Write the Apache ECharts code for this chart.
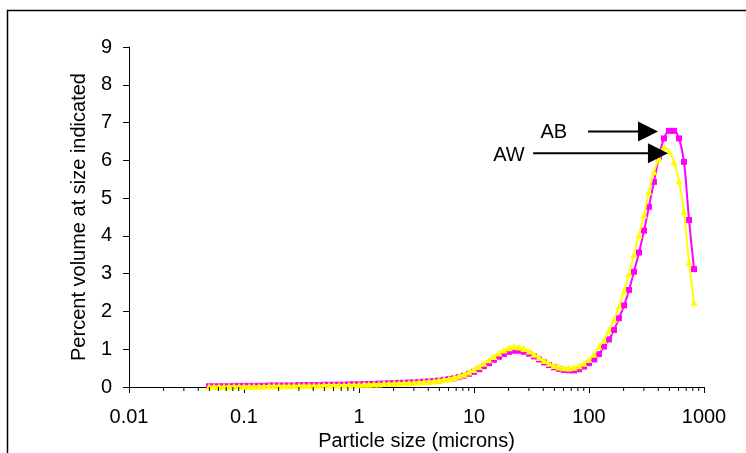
<!DOCTYPE html>
<html>
<head>
<meta charset="utf-8">
<script src="https://cdn.jsdelivr.net/npm/echarts@6/dist/echarts.min.js"></script>
<style>
  html, body { margin: 0; padding: 0; background: #ffffff; }
  #chart { width: 746px; height: 453px; }
</style>
</head>
<body>
<div id="chart"></div>
<script>
// Particle size classes (microns), geometric spacing
const sizes = [
  0.0496, 0.0548, 0.0606, 0.0670, 0.0741, 0.0819, 0.0905,
  0.100, 0.111, 0.122, 0.135, 0.149, 0.165, 0.182, 0.202, 0.223, 0.246, 0.272, 0.301,
  0.332, 0.367, 0.406, 0.449, 0.496, 0.548, 0.606, 0.670, 0.741, 0.819, 0.905,
  1.00, 1.11, 1.22, 1.35, 1.49, 1.65, 1.82, 2.02, 2.23, 2.46, 2.72, 3.01,
  3.32, 3.67, 4.06, 4.49, 4.96, 5.48, 6.06, 6.70, 7.41, 8.19, 9.05,
  10.0, 11.1, 12.2, 13.5, 14.9, 16.5, 18.2, 20.2, 22.3, 24.6, 27.2, 30.1,
  33.2, 36.7, 40.6, 44.9, 49.6, 54.8, 60.6, 67.0, 74.1, 81.9, 90.5,
  100, 111, 122, 135, 149, 165, 182, 202, 223, 246, 272,
  301, 332, 367, 406, 449, 496, 548, 606, 670, 741, 819
];

// Percent volume, sample AB
const ab = [
  0.02, 0.02, 0.02, 0.02, 0.02, 0.03, 0.03,
  0.03, 0.03, 0.03, 0.03, 0.03, 0.04, 0.04, 0.04, 0.04, 0.04, 0.04, 0.05,
  0.05, 0.05, 0.05, 0.05, 0.06, 0.06, 0.06, 0.06, 0.06, 0.07, 0.07,
  0.07, 0.08, 0.08, 0.08, 0.09, 0.09, 0.10, 0.10, 0.11, 0.11, 0.12, 0.12,
  0.13, 0.14, 0.15, 0.16, 0.17, 0.19, 0.21, 0.23, 0.26, 0.30, 0.35,
  0.40, 0.47, 0.55, 0.63, 0.72, 0.80, 0.87, 0.93, 0.96, 0.96, 0.93, 0.88,
  0.81, 0.73, 0.65, 0.58, 0.52, 0.48, 0.45, 0.44, 0.44, 0.47, 0.54,
  0.63, 0.73, 0.87, 1.07, 1.26, 1.51, 1.82, 2.16, 2.57, 3.05, 3.56,
  4.14, 4.77, 5.43, 6.10, 6.58, 6.78, 6.78, 6.58, 5.96, 4.42, 3.12
];

// Percent volume, sample AW
const aw = [
  0.01, 0.01, 0.01, 0.01, 0.02, 0.02, 0.02,
  0.02, 0.02, 0.02, 0.02, 0.02, 0.03, 0.03, 0.03, 0.03, 0.03, 0.03, 0.04,
  0.04, 0.04, 0.04, 0.04, 0.05, 0.05, 0.05, 0.05, 0.05, 0.06, 0.06,
  0.06, 0.07, 0.07, 0.08, 0.08, 0.09, 0.09, 0.10, 0.10, 0.11, 0.11, 0.12,
  0.13, 0.14, 0.15, 0.16, 0.18, 0.20, 0.22, 0.25, 0.29, 0.34, 0.40,
  0.46, 0.54, 0.63, 0.72, 0.81, 0.90, 0.98, 1.04, 1.07, 1.06, 1.02, 0.95,
  0.87, 0.78, 0.70, 0.63, 0.57, 0.53, 0.51, 0.50, 0.52, 0.56, 0.63,
  0.73, 0.87, 1.07, 1.24, 1.49, 1.79, 2.13, 2.55, 2.99, 3.51, 4.02,
  4.55, 5.17, 5.70, 6.05, 6.35, 6.25, 5.95, 5.45, 4.65, 3.30, 2.24
];

// Axis ticks
const xTickValues = [0.01, 0.1, 1, 10, 100, 1000];
const xTickLabels = ['0.01', '0.1', '1', '10', '100', '1000'];
const yTickLabels = ['0', '1', '2', '3', '4', '5', '6', '7', '8', '9'];

// Minor ticks at 2..9 inside each decade
const minorTicks = [];
for (let d = 0; d < xTickValues.length - 1; d++) {
  for (let m = 2; m <= 9; m++) minorTicks.push([xTickValues[d] * m, 0]);
}

// Arrow annotations in data space: label position, arrow tail, arrow tip
const notes = [
  { text: 'AB', label: [49.4, 6.75], tail: [98.2, 6.76], tip: [398, 6.76] },
  { text: 'AW', label: [20.1, 6.13], tail: [32.7, 6.19], tip: [486, 6.19] }
];

const FONT = '"Liberation Sans", Arial, sans-serif';
const chart = echarts.init(document.getElementById('chart'), null, { renderer: 'canvas' });

const option = {
  animation: false,
  backgroundColor: '#ffffff',
  grid: { left: 129, right: 42, top: 47, bottom: 66, containLabel: false, outerBoundsMode: 'none' },
  xAxis: {
    type: 'log',
    logBase: 10,
    min: 0.01,
    max: 1000,
    name: 'Particle size (microns)',
    nameLocation: 'middle',
    nameGap: 43,
    nameTextStyle: { color: '#000', fontFamily: FONT, fontSize: 20 },
    axisLine: { show: true, lineStyle: { color: '#000', width: 1 } },
    axisTick: { show: true, inside: false, length: 6, lineStyle: { color: '#000', width: 1 } },
    minorTick: { show: false },
    splitLine: { show: false },
    axisLabel: {
      color: '#000', fontFamily: FONT, fontSize: 20, margin: 20,
      formatter: function (v) {
        for (let i = 0; i < xTickValues.length; i++) {
          if (Math.abs(Math.log10(v) - Math.log10(xTickValues[i])) < 1e-6) return xTickLabels[i];
        }
        return '';
      }
    }
  },
  yAxis: {
    type: 'value',
    min: 0,
    max: 9,
    interval: 1,
    name: 'Percent volume at size indicated',
    nameLocation: 'middle',
    nameGap: 39,
    nameTextStyle: { color: '#000', fontFamily: FONT, fontSize: 20 },
    axisLine: { show: true, lineStyle: { color: '#000', width: 1 } },
    axisTick: { show: true, inside: false, length: 6, lineStyle: { color: '#000', width: 1 } },
    splitLine: { show: false },
    axisLabel: {
      color: '#000', fontFamily: FONT, fontSize: 20, margin: 17,
      formatter: function (v) { return yTickLabels[Math.round(v)]; }
    }
  },
  series: [
    {
      name: 'AB',
      type: 'line',
      data: sizes.map((s, i) => [s, ab[i]]),
      smooth: 0.3,
      showSymbol: true,
      symbol: 'rect',
      symbolSize: 6,
      itemStyle: { color: '#FF00FF' },
      lineStyle: { color: '#FF00FF', width: 2 },
      z: 3
    },
    {
      name: 'AW',
      type: 'line',
      data: sizes.map((s, i) => [s, aw[i]]),
      smooth: 0.3,
      showSymbol: true,
      symbol: 'triangle',
      symbolSize: 7,
      itemStyle: { color: '#FFFF00' },
      lineStyle: { color: '#FFFF00', width: 2 },
      z: 4
    },
    {
      name: 'minor ticks',
      type: 'custom',
      silent: true,
      z: 5,
      data: minorTicks,
      renderItem: function (params, api) {
        const p = api.coord([api.value(0), 0]);
        return {
          type: 'line',
          shape: { x1: p[0], y1: p[1], x2: p[0], y2: p[1] + 4 },
          style: { stroke: '#000', lineWidth: 1 }
        };
      }
    }
  ]
};

chart.setOption(option);

// Frame, arrows and labels placed from data coordinates
const graphics = [
  {
    type: 'rect',
    shape: { x: 7.5, y: 10.5, width: 800, height: 500 },
    style: { fill: 'none', stroke: '#000', lineWidth: 1.5 },
    silent: true
  }
];
notes.forEach(function (n) {
  const a = chart.convertToPixel({ gridIndex: 0 }, n.tail);
  const b = chart.convertToPixel({ gridIndex: 0 }, n.tip);
  const c = chart.convertToPixel({ gridIndex: 0 }, n.label);
  const headLen = 20, headHalf = 10;
  graphics.push({
    type: 'line',
    shape: { x1: a[0], y1: a[1], x2: b[0] - headLen, y2: b[1] },
    style: { stroke: '#000', lineWidth: 2 },
    z: 10
  });
  graphics.push({
    type: 'polygon',
    shape: { points: [[b[0], b[1]], [b[0] - headLen, b[1] - headHalf], [b[0] - headLen, b[1] + headHalf]] },
    style: { fill: '#000' },
    z: 10
  });
  graphics.push({
    type: 'text',
    x: c[0], y: c[1],
    style: { text: n.text, fill: '#000', font: '20px ' + FONT, align: 'center', verticalAlign: 'middle' },
    z: 10
  });
});
chart.setOption({ graphic: graphics });
</script>
</body>
</html>
